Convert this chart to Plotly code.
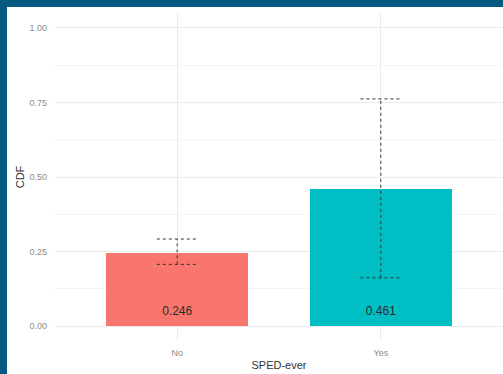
import plotly.graph_objects as go

# Proportions by SPED status with interval bounds
groups = ["No", "Yes"]
cdf_values = [0.246, 0.461]
lower_bounds = [0.207, 0.162]
upper_bounds = [0.292, 0.762]
bar_colors = ["#F8766D", "#00BFC4"]
y_ticks = [0.00, 0.25, 0.50, 0.75, 1.00]

W, H = 503, 374
L, R, T, B = 55, 0, 13, 33
pw, ph = W - L - R, H - T - B
BORDER = "#03597f"

x_pos = list(range(1, len(groups) + 1))
cap = 0.1
label_y = 0.047

fig = go.Figure()

fig.add_trace(go.Bar(
    x=x_pos, y=cdf_values, width=0.7,
    marker=dict(color=bar_colors, line=dict(width=0)),
    hoverinfo="skip", showlegend=False,
))

# dashed interval bars (stem + caps)
ex, ey = [], []
for xp, lo, hi in zip(x_pos, lower_bounds, upper_bounds):
    ex += [xp, xp, None, xp - cap, xp + cap, None, xp - cap, xp + cap, None]
    ey += [lo, hi, None, lo, lo, None, hi, hi, None]
fig.add_trace(go.Scatter(
    x=ex, y=ey, mode="lines",
    line=dict(color="#333333", width=1, dash="3px,3px"),
    hoverinfo="skip", showlegend=False,
))

fig.add_trace(go.Scatter(
    x=x_pos, y=[label_y] * len(groups), mode="text",
    text=[f"{v:.3f}" for v in cdf_values],
    textfont=dict(family="Liberation Sans, Arial", size=12, color="#2b2b2b"),
    hoverinfo="skip", showlegend=False,
))

# dark frame on the top and left edges
fig.add_shape(type="rect", xref="paper", yref="paper",
              x0=-L / pw, x1=(7 - L) / pw, y0=-B / ph, y1=(ph + T) / ph,
              fillcolor=BORDER, line=dict(width=0), layer="below")
fig.add_shape(type="rect", xref="paper", yref="paper",
              x0=-L / pw, x1=1 + R / pw, y0=(ph + T - 7) / ph, y1=(ph + T) / ph,
              fillcolor=BORDER, line=dict(width=0), layer="below")

fig.update_layout(
    width=W, height=H,
    margin=dict(l=L, r=R, t=T, b=B, pad=0),
    paper_bgcolor="white", plot_bgcolor="white",
    bargap=0,
    font=dict(family="Liberation Sans, Arial", color="#333333"),
    xaxis=dict(
        range=[0.4, 2.6], tickvals=x_pos, ticktext=groups,
        showgrid=True, gridcolor="#ebebeb", gridwidth=1,
        zeroline=False, showline=False, ticks="",
        tickfont=dict(size=9, color="#8c8c8c"), ticklabelstandoff=5,
        title=dict(text="SPED-ever", font=dict(size=11, color="#333333"), standoff=4),
        fixedrange=True,
    ),
    yaxis=dict(
        range=[-0.05, 1.05], tickvals=y_ticks,
        ticktext=[f"{v:.2f}" for v in y_ticks],
        showgrid=True, gridcolor="#ebebeb", gridwidth=1,
        minor=dict(tickvals=[0.125, 0.375, 0.625, 0.875],
                   showgrid=True, gridcolor="#f5f5f5", gridwidth=1),
        zeroline=False, showline=False, ticks="",
        tickfont=dict(size=9, color="#8c8c8c"), ticklabelstandoff=7,
        title=dict(text="CDF", font=dict(size=11, color="#333333"), standoff=2),
        fixedrange=True,
    ),
)

fig.write_html("out.html")
